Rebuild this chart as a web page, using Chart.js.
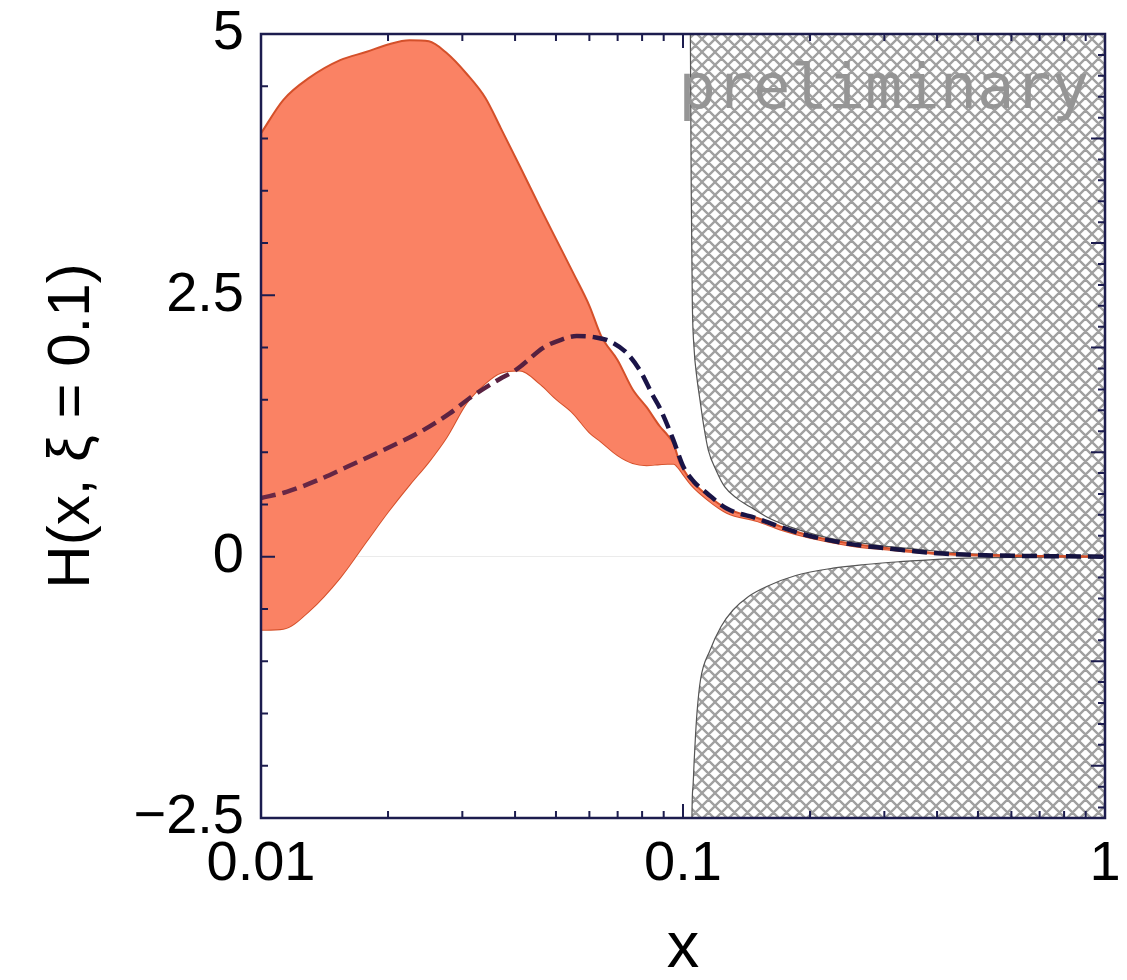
<!DOCTYPE html>
<html><head><meta charset="utf-8">
<script src="https://cdn.jsdelivr.net/npm/chart.js@4.4.1/dist/chart.umd.min.js"></script>
<style>html,body{margin:0;padding:0;background:#fff}canvas{display:block}</style>
</head><body>
<canvas id="c" width="1127" height="980"></canvas>
<script>
// ---- axis ticks ----
const xTickValues = [0.01, 0.1, 1];
const xTickLabels = ['0.01', '0.1', '1'];
const yTickValues = [-2.5, 0, 2.5, 5];
const yTickLabels = ['\u22122.5', '0', '2.5', '5'];
const xMinorTicks = [0.02,0.03,0.04,0.05,0.06,0.07,0.08,0.09,0.2,0.3,0.4,0.5,0.6,0.7,0.8,0.9];
const leftMinorStep = 0.5, rightMinorStep = 0.2, rightMajorStep = 1;

// ---- uncertainty band ----
const bandX = [0.010, 0.0113, 0.013, 0.0154, 0.0178, 0.020, 0.0225, 0.025, 0.0275, 0.0307, 0.034, 0.037, 0.041, 0.046, 0.050, 0.055, 0.060, 0.064, 0.070, 0.076, 0.082, 0.088, 0.092, 0.095, 0.098, 0.100, 0.105, 0.114, 0.127, 0.15, 0.17, 0.2, 0.25, 0.3, 0.4, 0.5, 0.6, 0.8, 1.0];
const bandUpper = [4.05, 4.37, 4.58, 4.75, 4.83, 4.90, 4.94, 4.93, 4.82, 4.62, 4.39, 4.10, 3.74, 3.33, 3.04, 2.71, 2.40, 2.11, 1.88, 1.60, 1.43, 1.25, 1.16, 1.08, 0.91, 0.84, 0.72, 0.59, 0.46, 0.37, 0.29, 0.20, 0.125, 0.085, 0.035, 0.018, 0.010, 0.004, 0.001];
const bandLower = [-0.70, -0.69, -0.52, -0.20, 0.15, 0.43, 0.69, 0.91, 1.14, 1.47, 1.66, 1.76, 1.78, 1.65, 1.51, 1.37, 1.19, 1.10, 0.97, 0.895, 0.875, 0.885, 0.89, 0.89, 0.84, 0.79, 0.68, 0.55, 0.42, 0.34, 0.26, 0.18, 0.105, 0.07, 0.025, 0.012, 0.006, 0.002, 0.0];

// ---- central (dashed) curve ----
const centralX = [0.010, 0.0115, 0.0136, 0.016, 0.0195, 0.024, 0.028, 0.0313, 0.0368, 0.0396, 0.0415, 0.0467, 0.051, 0.056, 0.0615, 0.0671, 0.0735, 0.0791, 0.0849, 0.0882, 0.0948, 0.1002, 0.106, 0.1138, 0.127, 0.15, 0.17, 0.2, 0.25, 0.3, 0.4, 0.5, 0.6, 0.8, 1.0];
const centralY = [0.56, 0.62, 0.73, 0.86, 1.02, 1.20, 1.37, 1.52, 1.70, 1.77, 1.83, 2.00, 2.07, 2.11, 2.10, 2.06, 1.95, 1.78, 1.54, 1.42, 1.12, 0.86, 0.72, 0.61, 0.46, 0.365, 0.285, 0.198, 0.12, 0.082, 0.032, 0.016, 0.009, 0.003, 0.0];

// ---- excluded (hatched) region boundaries ----
const boundUpperX = [0.1036, 0.1041, 0.1046, 0.1052, 0.1062, 0.1078, 0.1097, 0.1120, 0.1148, 0.120, 0.1255, 0.134, 0.1441, 0.158, 0.1792, 0.2, 0.2267, 0.25, 0.3, 0.36, 0.45, 0.6, 0.8, 1.0];
const boundUpperY = [8, 5, 3.5, 2.45, 2.0, 1.72, 1.50, 1.25, 1.02, 0.82, 0.67, 0.56, 0.477, 0.38, 0.285, 0.225, 0.17, 0.145, 0.10, 0.07, 0.035, 0.012, 0.004, 0.0];
const boundLowerX = [0.1045, 0.1050, 0.1056, 0.1063, 0.1071, 0.1080, 0.1100, 0.1159, 0.123, 0.1314, 0.143, 0.1579, 0.185, 0.2267, 0.27, 0.3267, 0.4, 0.5, 0.7, 1.0];
const boundLowerY = [-5, -2.5, -2.2, -1.95, -1.7, -1.48, -1.18, -0.895, -0.67, -0.51, -0.38, -0.285, -0.18, -0.11, -0.075, -0.048, -0.025, -0.012, -0.004, 0.0];

const pts = (xs, ys) => xs.map((x, i) => ({x: x, y: ys[i]}));

function makeHatch() {
  const P = 13, c = document.createElement('canvas');
  c.width = P; c.height = P;
  const g = c.getContext('2d');
  g.strokeStyle = '#a0a0a0'; g.lineWidth = 2.3;
  g.beginPath();
  for (let k = -1; k <= 1; k++) { g.moveTo(k*P - P, -P); g.lineTo(k*P + 2*P, 2*P); }
  for (let k = 0; k <= 2; k++) { g.moveTo(k*P + P, -P); g.lineTo(k*P - 2*P, 2*P); }
  g.stroke();
  return g.createPattern(c, 'repeat');
}
const hatch = makeHatch();

const FONT = '"Liberation Sans", Arial, Helvetica, sans-serif';
const NAVY = '#1c1c4e';

const decor = {
  id: 'decor',
  afterDatasetsDraw(chart) {
    const {ctx, chartArea: a, scales: {x, y}} = chart;
    ctx.save();
    ctx.strokeStyle = NAVY;
    ctx.lineWidth = 2;
    ctx.beginPath();
    xTickValues.forEach(v => {
      const p = x.getPixelForValue(v);
      ctx.moveTo(p, a.bottom); ctx.lineTo(p, a.bottom - 14);
      ctx.moveTo(p, a.top); ctx.lineTo(p, a.top + 14);
    });
    xMinorTicks.forEach(v => {
      const p = x.getPixelForValue(v);
      ctx.moveTo(p, a.bottom); ctx.lineTo(p, a.bottom - 7);
      ctx.moveTo(p, a.top); ctx.lineTo(p, a.top + 7);
    });
    for (let i = 0; ; i++) {
      const v = y.min + i * leftMinorStep;
      if (v > y.max + 1e-9) break;
      const p = y.getPixelForValue(v);
      const major = Math.abs(v / 2.5 - Math.round(v / 2.5)) < 1e-6;
      ctx.moveTo(a.left, p); ctx.lineTo(a.left + (major ? 14 : 7), p);
    }
    for (let i = 0; ; i++) {
      const v = -2.4 + i * rightMinorStep;
      if (v > y.max + 1e-9) break;
      const p = y.getPixelForValue(v);
      const major = Math.abs(v / rightMajorStep - Math.round(v / rightMajorStep)) < 1e-6;
      ctx.moveTo(a.right, p); ctx.lineTo(a.right - (major ? 14 : 7), p);
    }
    ctx.stroke();
    ctx.lineWidth = 2.5;
    ctx.strokeRect(a.left, a.top, a.right - a.left, a.bottom - a.top);
    ctx.font = '62px "DejaVu Sans Mono", monospace';
    ctx.fillStyle = '#959595';
    ctx.textAlign = 'right';
    ctx.textBaseline = 'alphabetic';
    ctx.fillText('preliminary', 1089, 108);
    ctx.restore();
  }
};

function centralColor(context) {
  const chart = context.chart, a = chart.chartArea;
  if (!a) return '#3a1a4a';
  const xs = chart.scales.x;
  const f = v => Math.min(1, Math.max(0, (xs.getPixelForValue(v) - a.left) / (a.right - a.left)));
  const g = chart.ctx.createLinearGradient(a.left, 0, a.right, 0);
  g.addColorStop(0, '#6a2846');
  g.addColorStop(f(0.05), '#55203f');
  g.addColorStop(f(0.068), '#1a1448');
  g.addColorStop(1, '#14123e');
  return g;
}

function noPad(s) { s.paddingTop = 0; s.paddingBottom = 0; s.paddingLeft = 0; s.paddingRight = 0; }

new Chart(document.getElementById('c'), {
  type: 'line',
  data: {
    datasets: [
      {data: pts(boundUpperX, boundUpperY), borderColor: '#555555', borderWidth: 1.2, backgroundColor: hatch, fill: 'end', order: 3},
      {data: pts(boundLowerX, boundLowerY), borderColor: '#555555', borderWidth: 1.2, backgroundColor: hatch, fill: 'start', order: 3},
      {data: pts(bandX, bandUpper), borderColor: 'rgb(212,80,42)', borderWidth: 2, backgroundColor: 'rgb(250,130,100)', fill: '+1', order: 2},
      {data: pts(bandX, bandLower), borderColor: 'rgb(212,80,42)', borderWidth: 2, fill: false, order: 2},
      {data: pts(centralX, centralY), borderColor: centralColor, borderWidth: 4.5, borderDash: [15, 7], borderCapStyle: 'butt', fill: false, order: 1}
    ]
  },
  options: {
    responsive: false,
    devicePixelRatio: 1,
    animation: false,
    layout: {padding: {top: 34, right: 22, left: 0, bottom: 0}},
    plugins: {legend: {display: false}, tooltip: {enabled: false}},
    elements: {point: {radius: 0, hitRadius: 0}, line: {cubicInterpolationMode: 'monotone'}},
    scales: {
      x: {
        type: 'logarithmic', min: 0.01, max: 1,
        afterBuildTicks(s) { s.ticks = xTickValues.map(v => ({value: v})); },
        afterFit(s) { s.height = 162; noPad(s); },
        ticks: {autoSkip: false, maxRotation: 0, minRotation: 0, padding: 13, color: '#000',
          font: {family: FONT, size: 56},
          callback(v) { const i = xTickValues.indexOf(v); return i >= 0 ? xTickLabels[i] : ''; }},
        grid: {display: false, drawTicks: false},
        border: {display: false},
        title: {display: true, text: 'x', color: '#000', font: {family: FONT, size: 65, lineHeight: 0.95}, padding: {top: 0, bottom: 0}}
      },
      y: {
        type: 'linear', min: -2.5, max: 5,
        afterBuildTicks(s) { s.ticks = yTickValues.map(v => ({value: v})); },
        afterFit(s) { s.width = 261; noPad(s); },
        ticks: {autoSkip: false, padding: 17, color: '#000',
          font: {family: FONT, size: 56},
          callback(v) { const i = yTickValues.indexOf(v); return i >= 0 ? yTickLabels[i] : ''; }},
        grid: {drawTicks: false, lineWidth: 1,
          color(c) { return c.tick && c.tick.value === 0 ? 'rgba(0,0,0,0.08)' : 'rgba(0,0,0,0)'; }},
        border: {display: false},
        title: {display: true, text: 'H(x, \u03BE = 0.1)', color: '#000', font: {family: FONT, size: 60, lineHeight: 1.2}, padding: {top: 36, bottom: 0}}
      }
    }
  },
  plugins: [decor]
});
</script>
</body></html>
